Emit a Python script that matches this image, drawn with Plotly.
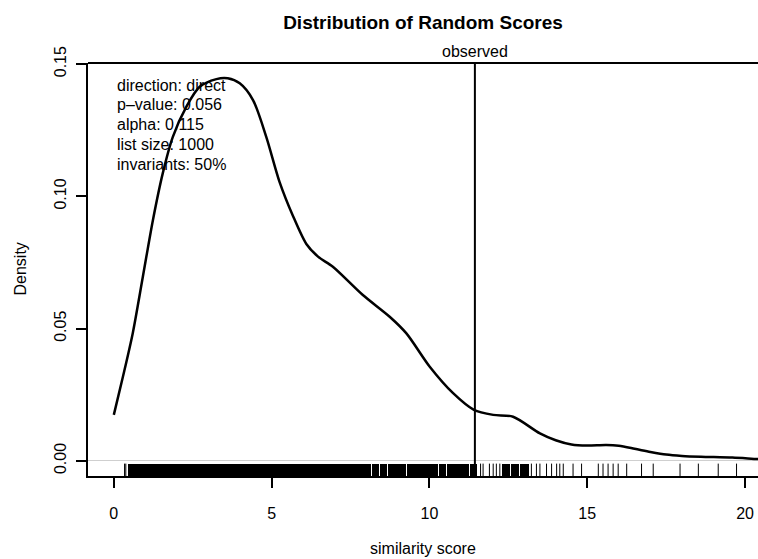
import plotly.graph_objects as go

# ---- data ----
dens_x = [0.0, 0.29, 0.60, 0.92, 1.24, 1.55, 1.87, 2.30, 2.72, 3.25, 3.61, 3.99, 4.41,
          4.83, 5.25, 5.68, 6.10, 6.47, 6.94, 7.89, 8.74, 9.27, 10.01, 10.75, 11.41,
          12.02, 12.65, 13.5, 14.0, 14.5, 15.0, 15.6, 16.0, 16.5, 17.0, 17.5, 18.0,
          18.6, 19.6, 20.4, 20.8]
dens_y = [0.0174, 0.0319, 0.0483, 0.0696, 0.0911, 0.1087, 0.1225, 0.1339, 0.1414,
          0.1443, 0.1446, 0.1427, 0.1364, 0.1225, 0.1055, 0.0925, 0.0820, 0.0772,
          0.0734, 0.0627, 0.0545, 0.0482, 0.0356, 0.0256, 0.0193, 0.0174, 0.0167,
          0.0104, 0.0078, 0.0062, 0.0058, 0.0060, 0.0057, 0.0046, 0.0034, 0.0024,
          0.0019, 0.0016, 0.0013, 0.0007, 0.0005]

# rug: solid (dense) stretches and isolated ticks
rug_seg_start = [0.45, 6.32, 8.17, 8.43, 8.68, 9.08, 9.29, 9.55, 9.84, 10.03, 10.29,
                 10.56, 10.88, 11.30, 12.30, 12.58, 12.88]
rug_seg_end = [6.30, 8.15, 8.41, 8.66, 9.06, 9.27, 9.53, 9.82, 10.01, 10.27, 10.54,
               10.86, 11.26, 11.52, 12.55, 12.85, 13.15]
rug_ticks = [0.34, 0.38, 11.62, 11.70, 11.90, 12.02, 12.12, 12.23, 13.23, 13.39, 13.50,
             13.71, 13.87, 14.03, 14.13, 14.24, 14.55, 14.82, 15.35, 15.50, 15.66,
             15.82, 15.98, 16.25, 16.72, 17.09, 17.94, 18.52, 19.15, 19.73]

observed = 11.44
info_lines = ["direction: direct", "p\u2013value: 0.056", "alpha: 0.115",
              "list size: 1000", "invariants: 50%"]
x_ticks = [0, 5, 10, 15, 20]
y_ticks = [0.00, 0.05, 0.10, 0.15]
y_ticklabels = ["0.00", "0.05", "0.10", "0.15"]

# ---- layout constants ----
FONT = "Liberation Sans"
x_range = [-0.818, 20.41]
y_range = [-0.0057, 0.1504]
rug_bottom = y_range[0]
rug_height = 0.03 * (y_range[1] - y_range[0])
W, H = 758, 559
PLOT_H = 413

fig = go.Figure()

# rug: dense stretches
fig.add_trace(go.Bar(
    x=[(s + e) / 2 for s, e in zip(rug_seg_start, rug_seg_end)],
    width=[e - s for s, e in zip(rug_seg_start, rug_seg_end)],
    y=[rug_height] * len(rug_seg_start),
    base=[rug_bottom] * len(rug_seg_start),
    marker=dict(color="black", line=dict(width=0)),
    hoverinfo="skip", showlegend=False,
))

# rug: single ticks
tx, ty = [], []
for v in rug_ticks:
    tx += [v, v, None]
    ty += [rug_bottom, rug_bottom + rug_height, None]
fig.add_trace(go.Scatter(x=tx, y=ty, mode="lines",
                         line=dict(color="black", width=1),
                         hoverinfo="skip", showlegend=False))

# density curve
fig.add_trace(go.Scatter(x=dens_x, y=dens_y, mode="lines",
                         line=dict(color="black", width=2.5, shape="spline", smoothing=0.8),
                         hoverinfo="skip", showlegend=False))

# observed line
fig.add_trace(go.Scatter(x=[observed, observed], y=[y_range[0], y_range[1]], mode="lines",
                         line=dict(color="black", width=2),
                         hoverinfo="skip", showlegend=False))

# top box line
fig.add_shape(type="line", xref="paper", yref="paper", x0=0, x1=1, y0=1, y1=1,
              line=dict(color="black", width=2))

annotations = []
annotations.append(dict(text="observed", x=observed, xref="x", y=1, yref="paper",
                        yanchor="bottom", xanchor="center", showarrow=False, yshift=1,
                        font=dict(family=FONT, size=16, color="black")))
for i, line in enumerate(info_lines):
    annotations.append(dict(text=line, x=0.0403, xref="paper",
                            y=1 - (22 + 19.8 * i) / PLOT_H, yref="paper",
                            xanchor="left", yanchor="middle", showarrow=False,
                            font=dict(family=FONT, size=16, color="black")))
annotations.append(dict(text="similarity score", x=0.5, xref="paper", y=-72 / PLOT_H,
                        yref="paper", xanchor="center", yanchor="middle", showarrow=False,
                        font=dict(family=FONT, size=16, color="black")))
annotations.append(dict(text="Density", x=-68 / 670, xref="paper", y=0.5, yref="paper",
                        xanchor="center", yanchor="middle", showarrow=False, textangle=-90,
                        font=dict(family=FONT, size=16, color="black")))

fig.update_layout(
    width=W, height=H,
    margin=dict(l=88, r=0, t=63, b=83),
    paper_bgcolor="white", plot_bgcolor="white",
    font=dict(family=FONT, size=16, color="black"),
    title=dict(text="<b>Distribution of Random Scores</b>", x=0.5, xref="paper",
               y=1 - 22 / H, yref="container", xanchor="center", yanchor="middle",
               font=dict(family=FONT, size=19, color="black")),
    bargap=0,
    hovermode=False,
    annotations=annotations,
    xaxis=dict(range=x_range, tickvals=x_ticks, ticktext=[str(v) for v in x_ticks],
               ticks="outside", ticklen=10, tickwidth=2, tickcolor="black",
               showline=True, linewidth=2, linecolor="black", showgrid=False,
               zeroline=False, ticklabelstandoff=12,
               tickfont=dict(family=FONT, size=16, color="black")),
    yaxis=dict(range=y_range, tickvals=y_ticks, ticktext=y_ticklabels,
               ticks="outside", ticklen=10, tickwidth=2, tickcolor="black",
               showline=True, linewidth=2, linecolor="black", showgrid=False,
               zeroline=True, zerolinecolor="#cfcfcf", zerolinewidth=1,
               tickangle=-90, ticklabelstandoff=4,
               tickfont=dict(family=FONT, size=16, color="black")),
)

fig.write_html(
    "out.html",
    config={"displayModeBar": False, "staticPlot": True},
    post_script="document.body.style.margin='0';document.body.style.overflow='hidden';",
)
